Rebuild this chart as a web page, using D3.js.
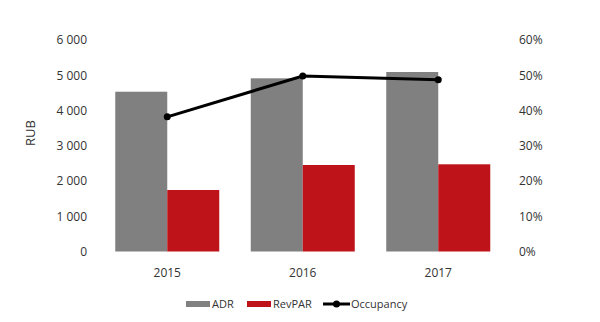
<!DOCTYPE html>
<html><head><meta charset="utf-8">
<script src="https://cdn.jsdelivr.net/npm/d3@7"></script>
<style>body{margin:0;background:#fff}svg{display:block}text{font-family:"Open Sans",Lato,sans-serif;fill:#333}</style>
</head><body><svg id="c" width="600" height="322"></svg>
<script>
const categories = ["2015","2016","2017"];
const adr = [4533, 4913, 5092];
const revpar = [1745, 2454, 2474];
const occupancy = [0.382, 0.498, 0.487];
const leftTicks = [0,1000,2000,3000,4000,5000,6000];
const rightTicks = [0,0.1,0.2,0.3,0.4,0.5,0.6];

const svg = d3.select("#c");
const x = d3.scaleBand().domain(categories).range([99.5,506]).paddingInner(0).paddingOuter(0);
const y = d3.scaleLinear().domain([0,6000]).range([251.5,40]);
const y2 = d3.scaleLinear().domain([0,0.6]).range([251.5,40]);
const bw = 52;
const fmt = d => d3.format(",")(d).replace(/,/g," ");

const gl = svg.append("g").attr("transform","translate(87,0)")
  .call(d3.axisLeft(y).tickValues(leftTicks).tickFormat(fmt).tickSize(0).tickPadding(0));
gl.select(".domain").remove();
const gr = svg.append("g").attr("transform","translate(519,0)")
  .call(d3.axisRight(y2).tickValues(rightTicks).tickFormat(d3.format(".0%")).tickSize(0).tickPadding(0));
gr.select(".domain").remove();
const gx = svg.append("g").attr("transform","translate(0,258)")
  .call(d3.axisBottom(x).tickSize(0).tickPadding(10));
gx.select(".domain").remove();
svg.selectAll(".tick text").attr("font-size",12).attr("font-family","'Open Sans',Lato,sans-serif").attr("fill","#333");

svg.append("text").attr("transform","translate(35,133) rotate(-90)").attr("text-anchor","middle")
  .attr("font-size",13).attr("fill","#111").text("RUB");

const cx = d => x(d) + x.bandwidth()/2;
svg.append("g").selectAll("rect").data(categories).join("rect")
  .attr("x",(d)=>cx(d)-bw).attr("width",bw)
  .attr("y",(d,i)=>y(adr[i])).attr("height",(d,i)=>y(0)-y(adr[i])).attr("fill","#808080");
svg.append("g").selectAll("rect").data(categories).join("rect")
  .attr("x",(d)=>cx(d)).attr("width",bw)
  .attr("y",(d,i)=>y(revpar[i])).attr("height",(d,i)=>y(0)-y(revpar[i])).attr("fill","#BE1319");

const line = d3.line().x((d,i)=>cx(categories[i])).y(d=>y2(d));
svg.append("path").datum(occupancy).attr("d",line).attr("fill","none").attr("stroke","#000").attr("stroke-width",3);
svg.append("g").selectAll("circle").data(occupancy).join("circle")
  .attr("cx",(d,i)=>cx(categories[i])).attr("cy",d=>y2(d)).attr("r",3.5).attr("fill","#000");

const lg = svg.append("g").attr("font-size",11);
lg.append("rect").attr("x",186).attr("y",301).attr("width",24).attr("height",6).attr("fill","#808080");
lg.append("text").attr("x",212).attr("y",308).text("ADR");
lg.append("rect").attr("x",247).attr("y",301).attr("width",24).attr("height",6).attr("fill","#BE1319");
lg.append("text").attr("x",273).attr("y",308).text("RevPAR");
lg.append("line").attr("x1",323).attr("x2",350).attr("y1",304).attr("y2",304).attr("stroke","#000").attr("stroke-width",3);
lg.append("circle").attr("cx",336.5).attr("cy",304).attr("r",3.5).attr("fill","#000");
lg.append("text").attr("x",351).attr("y",308).text("Occupancy");
</script></body></html>
